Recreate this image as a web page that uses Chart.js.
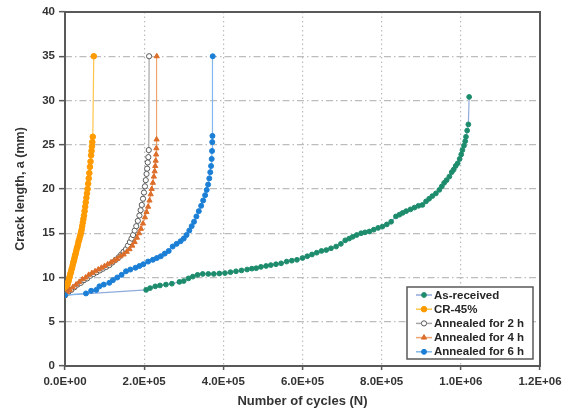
<!DOCTYPE html>
<html lang="en">
<head>
  <meta charset="UTF-8">
  <title>Crack growth curves</title>
  <script src="https://cdn.jsdelivr.net/npm/chart.js"></script>
  <style>
    html, body { margin: 0; background: #fff; }
    #wrap { width: 570px; height: 412px; }
  </style>
</head>
<body>
  <div id="wrap"><canvas id="crackChart" width="570" height="412"></canvas></div>

  <script>
    // [cycles N, crack length a (mm)]
    const asReceived = [
      [0, 8.0], [205000, 8.6], [215000, 8.8], [228000, 9.0], [240000, 9.1], [255000, 9.2],
      [270000, 9.3], [289000, 9.5], [300000, 9.6], [312000, 9.9], [323000, 10.1], [335000, 10.3],
      [348000, 10.4], [362000, 10.4], [376000, 10.4], [390000, 10.45], [404000, 10.5], [418000, 10.6],
      [432000, 10.7], [446000, 10.8], [460000, 10.9], [472000, 11.0], [483000, 11.05], [495000, 11.2],
      [508000, 11.3], [520000, 11.4], [533000, 11.5], [546000, 11.6], [560000, 11.8], [573000, 11.9],
      [586000, 12.0], [600000, 12.2], [612000, 12.4], [624000, 12.6], [636000, 12.8], [648000, 13.0],
      [660000, 13.1], [672000, 13.3], [685000, 13.5], [697000, 13.8], [708000, 14.2], [718000, 14.4],
      [727000, 14.6], [737000, 14.8], [748000, 15.0], [758000, 15.1], [769000, 15.2], [780000, 15.4],
      [791000, 15.6], [802000, 15.75], [813000, 16.0], [824000, 16.3], [836000, 16.9], [845000, 17.1],
      [853000, 17.3], [862000, 17.5], [873000, 17.7], [883000, 17.9], [893000, 18.1], [903000, 18.2],
      [912000, 18.6], [920000, 18.9], [928000, 19.2], [937000, 19.5], [945600, 19.9], [952000, 20.3],
      [958000, 20.7], [964000, 21.0], [971000, 21.4], [977000, 21.9], [982000, 22.2], [987000, 22.6],
      [992000, 22.9], [997000, 23.4], [1001000, 23.9], [1004000, 24.4], [1008000, 24.9], [1011000, 25.4],
      [1013000, 25.9], [1016000, 26.6], [1019000, 27.3], [1021000, 30.4]
    ];

    const cr45 = [
      [0, 8.0], [1500, 8.3], [3000, 8.6], [4500, 8.9], [6000, 9.1], [7500, 9.4], [9000, 9.6],
      [10500, 9.9], [12000, 10.1], [13500, 10.4], [15000, 10.6], [16500, 10.9], [18000, 11.1],
      [19500, 11.4], [21000, 11.7], [22500, 11.9], [24000, 12.2], [25500, 12.5], [27000, 12.7],
      [28500, 13.0], [30000, 13.3], [31500, 13.5], [33000, 13.8], [34500, 14.1], [36000, 14.3],
      [37500, 14.6], [39000, 14.8], [40500, 15.1], [42000, 15.4], [43500, 15.8], [45000, 16.2],
      [46500, 16.6], [48000, 17.0], [49500, 17.5], [51000, 18.0], [52500, 18.5], [54000, 19.0],
      [55500, 19.5], [57000, 20.0], [58500, 20.6], [60000, 21.2], [61500, 21.8], [63000, 22.5],
      [64500, 23.1], [66000, 23.8], [67000, 24.3], [68000, 24.8], [69000, 25.3], [70200, 25.9],
      [72700, 35.0]
    ];

    const annealed2h = [
      [0, 8.0], [8000, 8.3], [16000, 8.6], [24000, 8.9], [32000, 9.2], [40000, 9.4], [48000, 9.7],
      [56000, 9.9], [64000, 10.2], [72000, 10.4], [80000, 10.6], [88000, 10.8], [96000, 11.0],
      [104000, 11.2], [112000, 11.4], [120000, 11.7], [128000, 12.0], [136000, 12.3], [142000, 12.6],
      [148000, 12.9], [154000, 13.2], [159000, 13.6], [164000, 14.0], [168000, 14.4], [172000, 14.8],
      [176000, 15.3], [180000, 15.8], [184000, 16.4], [188000, 17.0], [191000, 17.6], [194000, 18.2],
      [197000, 18.9], [199500, 19.6], [202000, 20.3], [204000, 21.0], [206000, 21.7], [207500, 22.3],
      [209000, 23.0], [210500, 23.6], [211600, 24.4], [212500, 35.0]
    ];

    const annealed4h = [
      [0, 8.0], [6000, 8.3], [12000, 8.6], [20000, 8.9], [28000, 9.2], [36000, 9.5], [44000, 9.8],
      [52000, 10.0], [60000, 10.3], [68000, 10.5], [76000, 10.7], [84000, 10.9], [92000, 11.1],
      [100000, 11.3], [108000, 11.5], [116000, 11.7], [124000, 11.9], [132000, 12.1], [140000, 12.4],
      [148000, 12.6], [156000, 12.9], [163000, 13.2], [170000, 13.6], [176000, 14.0], [182000, 14.5],
      [187000, 15.0], [192000, 15.5], [197000, 16.1], [202000, 16.8], [206000, 17.4], [210000, 18.0],
      [213500, 18.7], [216500, 19.4], [219000, 20.0], [222000, 20.7], [224500, 21.4], [226500, 22.0],
      [228000, 22.6], [229200, 23.2], [230200, 23.9], [230800, 24.6], [231400, 25.6], [231800, 35.0]
    ];

    const annealed6h = [
      [0, 8.0], [53000, 8.2], [66000, 8.5], [79000, 8.6], [87000, 9.0], [98000, 9.2], [112000, 9.4],
      [121000, 9.7], [132000, 10.0], [143000, 10.3], [154000, 10.7], [165000, 10.9], [178000, 11.1],
      [188000, 11.3], [198000, 11.5], [210000, 11.8], [222000, 12.0], [232000, 12.2], [242000, 12.4],
      [252000, 12.7], [262000, 13.0], [272000, 13.5], [282000, 13.8], [292000, 14.1], [300000, 14.4],
      [307000, 14.8], [314000, 15.3], [320000, 15.8], [326000, 16.3], [332000, 16.9], [338000, 17.5],
      [344000, 18.1], [349000, 18.7], [354000, 19.3], [358000, 19.9], [361500, 20.5], [364500, 21.2],
      [367000, 21.9], [369000, 22.6], [370500, 23.4], [371500, 24.3], [372000, 25.3], [372500, 26.0],
      [373200, 35.0]
    ];

    const seriesLabels = ['As-received', 'CR-45%', 'Annealed for 2 h', 'Annealed for 4 h', 'Annealed for 6 h'];
    const xTicks = [0, 200000, 400000, 600000, 800000, 1000000, 1200000];

    const FONT = '"Liberation Sans", Arial, sans-serif';
    const FRAME = '#595959';

    // 2.0E+05 style labels
    function sci(v) {
      const [m, e] = v.toExponential(1).split('e');
      return m + 'E' + e[0] + e.slice(1).padStart(2, '0');
    }

    const pts = arr => arr.map(p => ({ x: p[0], y: p[1] }));

    // plot frame, drawn over the grid but under the curves
    const frame = {
      id: 'frame',
      beforeDatasetsDraw(chart) {
        const { ctx, chartArea: a } = chart;
        ctx.save();
        ctx.strokeStyle = FRAME;
        ctx.lineWidth = 2;
        ctx.strokeRect(a.left, a.top, a.right - a.left, a.bottom - a.top);
        ctx.restore();
      }
    };

    // boxed legend in the lower right of the plot
    const boxLegend = {
      id: 'boxLegend',
      afterDraw(chart) {
        const { ctx, chartArea: a } = chart;
        const w = 126, h = 72;
        const bx = a.right - 7 - w, by = a.bottom - 7 - h;
        ctx.save();
        ctx.fillStyle = '#fff';
        ctx.fillRect(bx, by, w, h);
        ctx.strokeStyle = FRAME;
        ctx.lineWidth = 1.5;
        ctx.strokeRect(bx, by, w, h);
        ctx.font = 'bold 11.5px ' + FONT;
        ctx.textBaseline = 'middle';
        ctx.textAlign = 'left';
        chart.data.datasets.forEach((ds, i) => {
          const y = by + 8 + i * 14.2;
          const x0 = bx + 9, x1 = bx + 25;
          ctx.strokeStyle = ds.borderColor;
          ctx.lineWidth = 1.5;
          ctx.beginPath();
          ctx.moveTo(x0, y);
          ctx.lineTo(x1, y);
          ctx.stroke();
          ctx.fillStyle = ds.pointBackgroundColor;
          ctx.strokeStyle = ds.pointBorderColor;
          ctx.lineWidth = ds.pointBorderWidth;
          Chart.helpers.drawPoint(ctx, {
            pointStyle: ds.pointStyle, rotation: 0,
            radius: ds.pointRadius, borderWidth: ds.pointBorderWidth
          }, (x0 + x1) / 2, y);
          ctx.fillStyle = '#262626';
          ctx.fillText(ds.label, x1 + 2, y + 0.5);
        });
        ctx.restore();
      }
    };

    function series(label, data, line, fill, stroke, style, r, bw, order) {
      return {
        label, data: pts(data), order,
        showLine: true, borderColor: line, borderWidth: 1.2,
        pointStyle: style, pointRadius: r, pointBorderWidth: bw,
        pointBackgroundColor: fill, pointBorderColor: stroke
      };
    }

    new Chart(document.getElementById('crackChart'), {
      type: 'scatter',
      data: {
        datasets: [
          series(seriesLabels[0], asReceived, '#8FAADC', '#1D8C6C', '#1D8C6C', 'circle', 2.4, 1, 5),
          series(seriesLabels[1], cr45, '#FFC54A', '#FF9A00', '#FF9A00', 'circle', 2.8, 1, 4),
          series(seriesLabels[2], annealed2h, '#A6A6A6', '#FFFFFF', '#595959', 'circle', 2.6, 1, 3),
          series(seriesLabels[3], annealed4h, '#EFA673', '#DD6E2A', '#DD6E2A', 'triangle', 3, 1, 2),
          series(seriesLabels[4], annealed6h, '#80B8EC', '#1B7FD6', '#1B7FD6', 'circle', 2.5, 1, 1)
        ]
      },
      options: {
        responsive: false,
        animation: false,
        devicePixelRatio: 1,
        layout: { padding: { left: 0, right: 30, top: 12, bottom: 0 } },
        plugins: {
          legend: { display: false },
          tooltip: { enabled: false }
        },
        scales: {
          x: {
            type: 'linear',
            min: 0, max: 1200000,
            afterFit: s => { s.height = 46; },
            afterBuildTicks: s => { s.ticks = xTicks.map(v => ({ value: v })); },
            ticks: {
              padding: 5, color: '#333',
              font: { family: FONT, size: 11.5, weight: 'bold' },
              callback: v => sci(v)
            },
            grid: {
              color: '#BDBDBD', lineWidth: 1.2,
              tickLength: 4, tickColor: FRAME, tickWidth: 1.5
            },
            border: { display: false, dash: [1.5, 3] },
            title: {
              display: true, text: 'Number of cycles (N)', color: '#333',
              font: { family: FONT, size: 13, weight: 'bold' },
              padding: { top: 0, bottom: 3 }
            }
          },
          y: {
            min: 0, max: 40,
            afterFit: s => { s.width = 65; },
            ticks: {
              stepSize: 5, padding: 4, color: '#333',
              font: { family: FONT, size: 11.5, weight: 'bold' }
            },
            grid: {
              color: '#BDBDBD', lineWidth: 1.3,
              tickLength: 6, tickColor: FRAME, tickWidth: 1.5
            },
            border: { display: false, dash: [7, 3, 1.5, 3] },
            title: {
              display: true, text: 'Crack length, a (mm)', color: '#333',
              font: { family: FONT, size: 12.5, weight: 'bold' },
              padding: { top: 13, bottom: 0 }
            }
          }
        }
      },
      plugins: [frame, boxLegend]
    });
  </script>
</body>
</html>
